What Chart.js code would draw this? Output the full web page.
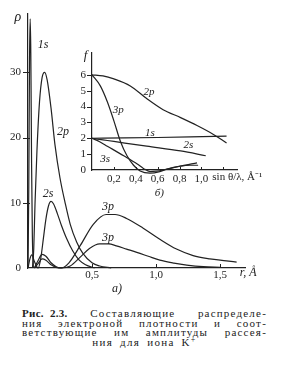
<!DOCTYPE html>
<html>
<head>
<meta charset="utf-8">
<script src="https://cdn.jsdelivr.net/npm/chart.js@4.4.1/dist/chart.umd.min.js"></script>
<style>
    body { margin: 0; background: #fff; width: 304px; height: 365px; position: relative; overflow: hidden; font-family: 'Liberation Serif', serif; color: #222; }
    #mainWrap { position: absolute; left: 0; top: 0; width: 304px; height: 300px; }
    #insetWrap { position: absolute; left: 60px; top: 40px; width: 244px; height: 160px; }
    .cap { position: absolute; left: 22px; width: 245px; font-size: 11px; line-height: 10px; letter-spacing: 1.2px; text-align: justify; text-align-last: justify; }
    .cap b { display: inline-block; letter-spacing: 0.3px; word-spacing: 3px; }
    .cap.last { text-align: center; text-align-last: center; letter-spacing: 1.3px; word-spacing: 3px; }
    .cap sup { font-size: 8px; line-height: 0; vertical-align: 4px; }
</style>
</head>
<body>
<div id="mainWrap"><canvas id="mainChart"></canvas></div>
<div id="insetWrap"><canvas id="insetChart"></canvas></div>
<div class="cap" style="top:308px"><b>Рис. 2.3.</b> Составляющие распределе-</div>
<div class="cap" style="top:318px">ния электроной плотности и соот-</div>
<div class="cap" style="top:327px">ветствующие им амплитуды рассея-</div>
<div class="cap last" style="top:337px">ния для иона K<sup>+</sup></div>
<script>
// main plot a): radial density rho(r), r in angstrom
const r1s = [0, 0.006, 0.012, 0.017, 0.022, 0.028, 0.034, 0.042];
const rho1s = [0, 12, 32, 38.2, 33, 16, 5, 0];
const r2p = [0.035, 0.045, 0.055, 0.07, 0.09, 0.11, 0.13, 0.15, 0.18, 0.21, 0.25, 0.29, 0.33, 0.38, 0.43, 0.5, 0.56, 0.65];
const rho2p = [0, 3, 10, 18, 25.5, 29.2, 30, 28.8, 24.5, 19, 13.8, 10, 6.7, 4, 2.2, 0.8, 0.3, 0];
const r2s = [0, 0.015, 0.03, 0.05, 0.08, 0.1, 0.12, 0.14, 0.16, 0.18, 0.2, 0.23, 0.26, 0.3, 0.35, 0.4, 0.45, 0.52];
const rho2s = [0, 1.4, 2.0, 1.0, 0, 1.5, 4.5, 7.5, 9.5, 10.2, 9.8, 8.3, 6.6, 4.6, 2.6, 1.2, 0.5, 0];
const r3pA = [0.05, 0.08, 0.11, 0.14, 0.18, 0.22, 0.26, 0.32, 0.41, 0.51, 0.61, 0.68, 0.77, 0.9, 1.03, 1.16, 1.29, 1.42, 1.55, 1.63];
const rho3pA = [0, 1.2, 2.1, 1.8, 0.8, 0.2, 0, 0.8, 3.5, 6.7, 8.2, 8.2, 7.6, 6.1, 4.4, 2.9, 1.9, 1.4, 1.1, 0.9];
const r3pB = [0.05, 0.08, 0.11, 0.14, 0.18, 0.22, 0.26, 0.33, 0.41, 0.48, 0.56, 0.63, 0.69, 0.77, 0.85, 0.94, 1.03, 1.14, 1.24, 1.37, 1.5];
const rho3pB = [0, 0.7, 1.4, 1.2, 0.5, 0.1, 0, 0.3, 1.7, 3.0, 3.7, 3.7, 3.4, 2.9, 2.4, 1.8, 1.2, 0.75, 0.45, 0.2, 0.1];
const mainXTicks = [0.5, 1.0, 1.5];
const mainYTicks = [0, 10, 20, 30];

// inset b): scattering amplitudes f(sin theta / lambda)
const s1s = [0, 0.3, 0.6, 0.9, 1.23];
const f1s = [2, 2.02, 2.05, 2.09, 2.14];
const s2s = [0, 0.1, 0.2, 0.5, 0.81, 1.04];
const f2s = [2, 1.9, 1.8, 1.5, 1.2, 0.9];
const s2p = [0, 0.1, 0.2, 0.35, 0.5, 0.65, 0.81, 0.96, 1.11, 1.23];
const f2p = [6, 5.93, 5.74, 5.3, 4.5, 3.8, 3.3, 2.8, 2.24, 1.7];
const s3s = [0, 0.07, 0.14, 0.29, 0.41, 0.47, 0.53, 0.59, 0.65, 0.81, 0.96];
const f3s = [2, 1.78, 1.5, 0.9, 0.4, 0.1, -0.1, -0.07, 0, 0.25, 0.45];
const s3p = [0, 0.076, 0.14, 0.2, 0.26, 0.32, 0.38, 0.44, 0.53, 0.62, 0.68, 0.81, 0.9, 0.97];
const f3p = [6, 5.3, 4.3, 3.1, 1.8, 0.9, 0.3, -0.06, -0.2, -0.1, 0.05, 0.25, 0.3, 0.3];
const insetXTicks = [0.2, 0.4, 0.6, 0.8, 1.0, 1.2];
const insetXLabels = ['0,2', '0,4', '0,6', '0,8', '1,0', ''];
const insetYTicks = [0, 1, 2, 3, 4, 5, 6];

const ink = '#222';
const tickFont = { family: 'Liberation Serif', size: 11 };
const labelFont = 'italic 12px "Liberation Serif"';
const insetLabelFont = 'italic 11px "Liberation Serif"';

function pts(xs, ys) {
    return xs.map((v, i) => ({ x: v, y: ys[i] }));
}

function curve(xs, ys) {
    return {
        data: pts(xs, ys),
        borderColor: ink,
        borderWidth: 1.2,
        pointRadius: 0,
        fill: false,
        cubicInterpolationMode: 'monotone',
        clip: false,
    };
}

// draws small tick marks and the text labels in data coordinates
function notesPlugin(id, marks, items) {
    return {
        id: id,
        afterDatasetsDraw(chart) {
            const { ctx, chartArea } = chart;
            const x = chart.scales.x, y = chart.scales.y;
            ctx.save();
            ctx.strokeStyle = ink;
            ctx.lineWidth = 1;
            ctx.beginPath();
            marks.x.forEach(v => {
                const px = Math.round(x.getPixelForValue(v)) + 0.5;
                ctx.moveTo(px, chartArea.bottom);
                ctx.lineTo(px, chartArea.bottom - marks.xLen);
            });
            marks.y.forEach(v => {
                const py = Math.round(y.getPixelForValue(v)) + 0.5;
                ctx.moveTo(chartArea.left - marks.yOut, py);
                ctx.lineTo(chartArea.left + marks.yIn, py);
            });
            ctx.stroke();
            ctx.fillStyle = ink;
            ctx.textBaseline = 'middle';
            items.forEach(n => {
                ctx.font = n.font || marks.font;
                ctx.textAlign = n.align || 'center';
                ctx.fillText(n.text, x.getPixelForValue(n.x), y.getPixelForValue(n.y));
            });
            ctx.restore();
        }
    };
}

function baseOptions(xr, yr, padding, yWidth, xHeight, xTicks, xFmt, yTicks, yPad, xPad) {
    return {
        responsive: true,
        maintainAspectRatio: false,
        animation: false,
        layout: { padding: padding },
        plugins: { legend: { display: false }, tooltip: { enabled: false } },
        scales: {
            x: {
                type: 'linear',
                min: xr[0],
                max: xr[1],
                grid: { display: false, drawTicks: false },
                border: { display: true, color: ink, width: 1.2 },
                afterBuildTicks: s => { s.ticks = xTicks.map(v => ({ value: v })); },
                afterFit: s => { s.height = xHeight; },
                ticks: { autoSkip: false, maxRotation: 0, padding: xPad, color: ink, font: tickFont, callback: xFmt },
            },
            y: {
                type: 'linear',
                min: yr[0],
                max: yr[1],
                grid: { display: false, drawTicks: false },
                border: { display: true, color: ink, width: 1.2 },
                afterBuildTicks: s => { s.ticks = yTicks.map(v => ({ value: v })); },
                afterFit: s => { s.width = yWidth; },
                ticks: { autoSkip: false, padding: yPad, color: ink, font: tickFont },
            },
        },
    };
}

const mainOpts = baseOptions([0, 1.7], [0, 39], { left: 0, top: 4.75, right: 58.4, bottom: 0 }, 28, 32,
    mainXTicks, v => v.toFixed(1).replace('.', ','), mainYTicks, 7, 1);

new Chart(document.getElementById('mainChart'), {
    type: 'line',
    data: {
        datasets: [
            curve(r1s, rho1s),
            curve(r2p, rho2p),
            curve(r2s, rho2s),
            curve(r3pA, rho3pA),
            curve(r3pB, rho3pB),
        ]
    },
    options: mainOpts,
    plugins: [notesPlugin('mainNotes', { x: mainXTicks, xLen: 4, y: [10, 20, 30], yOut: 5, yIn: 2, font: labelFont }, [
        { text: 'ρ', x: -0.08, y: 38.4, font: 'italic 14px "Liberation Serif"' },
        { text: '1s', x: 0.117, y: 34.2 },
        { text: '2p', x: 0.273, y: 20.9 },
        { text: '2s', x: 0.156, y: 11.3 },
        { text: '3p', x: 0.625, y: 9.3 },
        { text: '3p', x: 0.625, y: 4.6 },
        { text: 'r, Å', x: 1.72, y: -0.75 },
        { text: 'а)', x: 0.695, y: -3.26 },
    ])],
});

const insetOpts = baseOptions([0, 1.33], [0, 7.4], { left: 0, top: 6.6, right: 66.5, bottom: 0 }, 32, 30,
    insetXTicks, (v, i) => insetXLabels[i], insetYTicks, 6, 3);

new Chart(document.getElementById('insetChart'), {
    type: 'line',
    data: {
        datasets: [
            curve(s1s, f1s),
            curve(s2s, f2s),
            curve(s2p, f2p),
            curve(s3s, f3s),
            curve(s3p, f3p),
        ]
    },
    options: insetOpts,
    plugins: [notesPlugin('insetNotes', { x: insetXTicks, xLen: 3, y: [1, 2, 3, 4, 5, 6], yOut: 5, yIn: 0, font: insetLabelFont }, [
        { text: 'f', x: -0.06, y: 7.2, font: 'italic 13px "Liberation Serif"' },
        { text: '2p', x: 0.52, y: 4.9 },
        { text: '3p', x: 0.24, y: 3.8 },
        { text: '1s', x: 0.53, y: 2.34 },
        { text: '2s', x: 0.88, y: 1.54 },
        { text: '3s', x: 0.12, y: 0.7 },
        { text: 'sin θ/λ, Å⁻¹', x: 1.1, y: -0.42, align: 'left', font: '11px "Liberation Serif"' },
        { text: 'б)', x: 0.615, y: -1.44 },
    ])],
});
</script>
</body>
</html>
